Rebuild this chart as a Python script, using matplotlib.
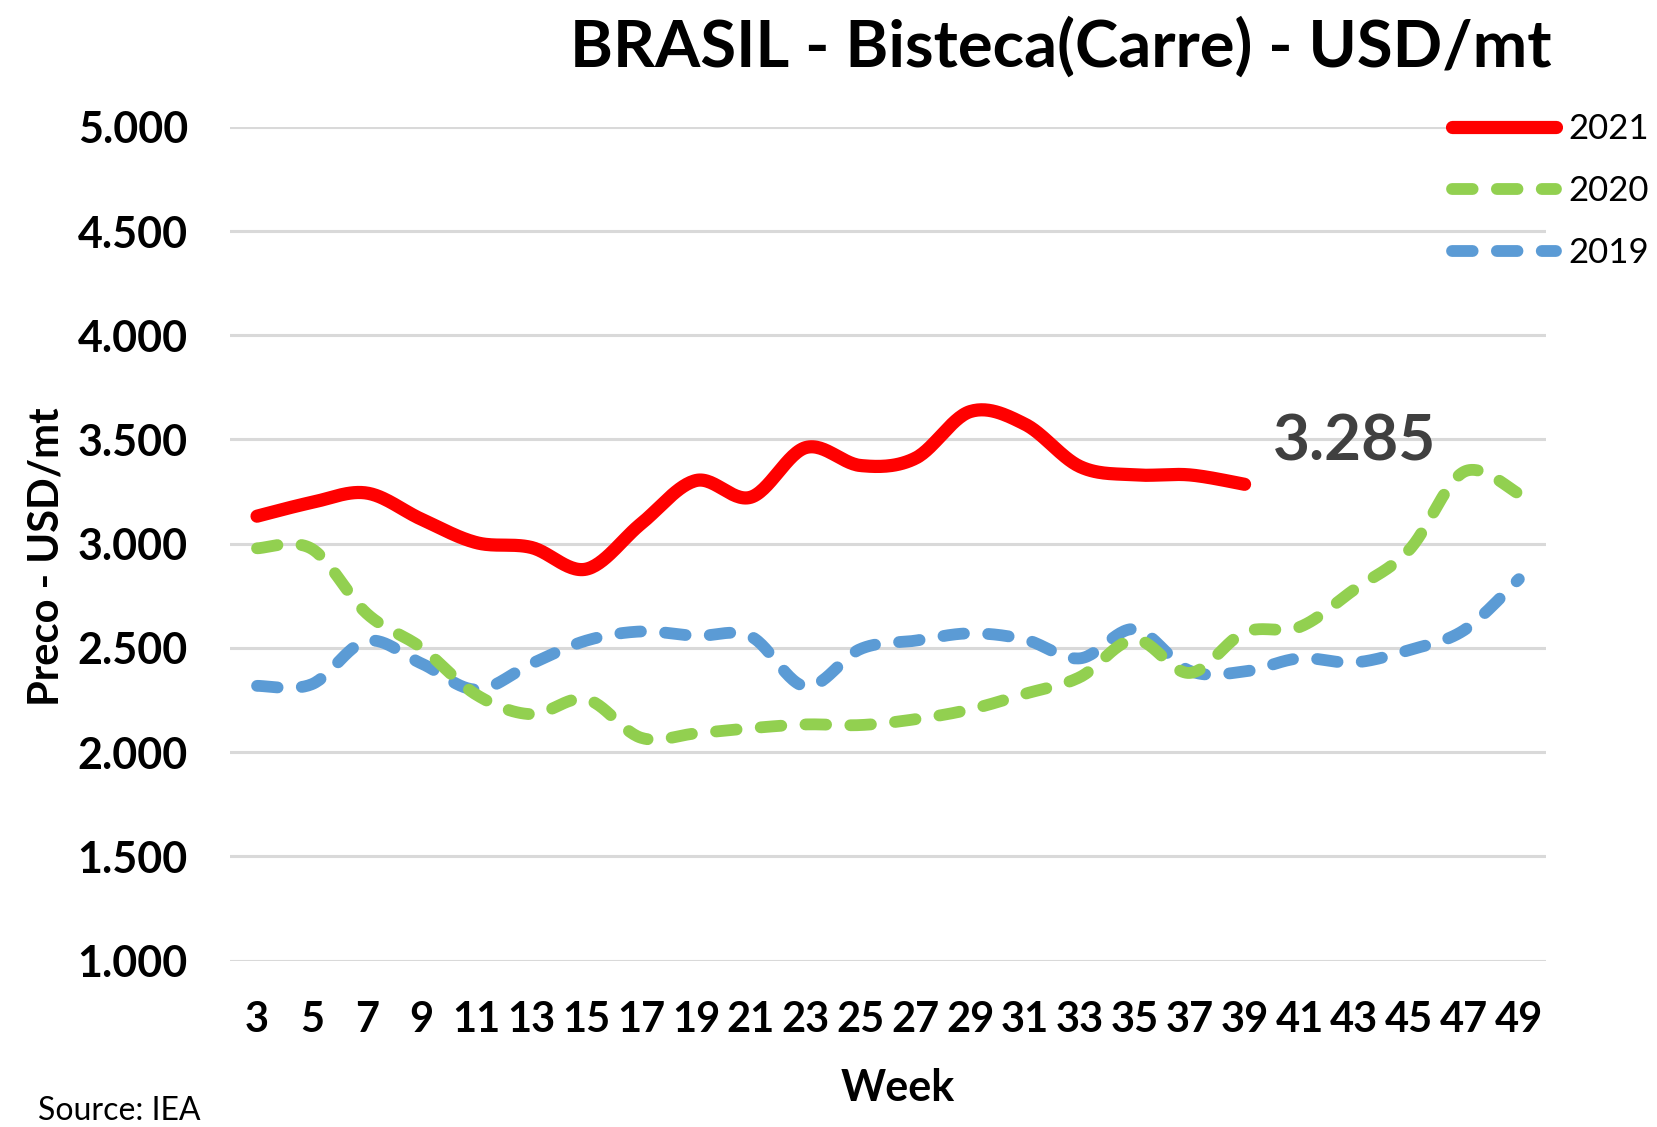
import numpy as np
import matplotlib
matplotlib.use("Agg")
import matplotlib.pyplot as plt
from matplotlib.lines import Line2D

plt.rcParams['font.family'] = ['Lato', 'DejaVu Sans']

# ---- data ----
weeks = list(range(3, 50, 2))
weeks_2021 = list(range(3, 40, 2))
y2021 = [3132, 3198, 3243, 3117, 3005, 2982, 2878, 3096, 3303, 3223,
         3461, 3375, 3410, 3634, 3573, 3370, 3330, 3330, 3285]
y2020 = [2978, 2975, 2665, 2500, 2275, 2182, 2254, 2069, 2090, 2115,
         2133, 2130, 2158, 2205, 2280, 2360, 2540, 2380, 2575, 2600,
         2780, 2970, 3345, 3240]
y2019 = [2318, 2326, 2534, 2425, 2300, 2424, 2535, 2579, 2558, 2555,
         2315, 2495, 2535, 2570, 2540, 2450, 2590, 2390, 2387, 2450,
         2430, 2490, 2585, 2830]
yticks = [1000, 1500, 2000, 2500, 3000, 3500, 4000, 4500, 5000]
ytick_labels = ["1.000", "1.500", "2.000", "2.500", "3.000", "3.500", "4.000", "4.500", "5.000"]

RED = "#FF0000"
GREEN = "#92D050"
BLUE = "#5B9BD5"


def smooth(x, y, n=30):
    """Catmull-Rom smoothing similar to Excel's smoothed line."""
    x = np.asarray(x, float)
    y = np.asarray(y, float)
    P = np.column_stack([x, y])
    P = np.vstack([P[0], P, P[-1]])
    out = []
    t = np.linspace(0, 1, n, endpoint=False)[:, None]
    for i in range(1, len(P) - 2):
        p0, p1, p2, p3 = P[i - 1], P[i], P[i + 1], P[i + 2]
        c1 = p1 + (p2 - p0) / 6.0
        c2 = p2 - (p3 - p1) / 6.0
        seg = ((1 - t) ** 3) * p1 + 3 * ((1 - t) ** 2) * t * c1 + 3 * (1 - t) * t ** 2 * c2 + t ** 3 * p2
        out.append(seg)
    out.append(P[-2][None, :])
    out = np.vstack(out)
    return out[:, 0], out[:, 1]


W, H = 1657, 1127
fig = plt.figure(figsize=(W / 100, H / 100), dpi=100)
ax = fig.add_axes([229.6 / W, 1 - 960.6 / H, (1546.3 - 229.6) / W, (960.6 - 126.8) / H])

ax.set_xlim(2, 50)
ax.set_ylim(1000, 5000)
ax.set_yticks(yticks)
ax.set_yticklabels(ytick_labels)
ax.set_xticks(weeks)
ax.set_xticklabels([str(w) for w in weeks])
ax.grid(axis='y', color='#D9D9D9', linewidth=2.2)
ax.set_axisbelow(True)
for s in ax.spines.values():
    s.set_visible(False)
ax.tick_params(axis='both', length=0)
ax.tick_params(axis='y', pad=30, labelsize=31)
ax.tick_params(axis='x', pad=29, labelsize=30)
for lab in ax.get_xticklabels() + ax.get_yticklabels():
    lab.set_fontweight('bold')

dash = (0, (1.75, 2.05))
xs, ys = smooth(weeks, y2019)
ax.plot(xs, ys, color=BLUE, lw=8.5, linestyle=dash, dash_capstyle='round', solid_capstyle='round')
xs, ys = smooth(weeks, y2020)
ax.plot(xs, ys, color=GREEN, lw=8.5, linestyle=dash, dash_capstyle='round', solid_capstyle='round')
xs, ys = smooth(weeks_2021, y2021)
ax.plot(xs, ys, color=RED, lw=9.5, solid_capstyle='round')

last_label = f"{y2021[-1]:,}".replace(",", ".")
ax.text(43.0, 3490, last_label, fontsize=46, fontweight='bold', color='#404040',
        ha='center', va='center')

ax.set_ylabel("Preco - USD/mt", fontsize=30, fontweight='bold')
ax.yaxis.set_label_coords(-0.1387, 0.484)
ax.yaxis.label.set_va('center')
ax.set_xlabel("Week", fontsize=31, fontweight='bold')
ax.xaxis.set_label_coords(0.5076, -0.1528)
ax.xaxis.label.set_va('center')

fig.text(1551 / W, 1 - 47 / H, "BRASIL - Bisteca(Carre) - USD/mt", fontsize=47,
         fontweight='bold', ha='right', va='center')
fig.text(38 / W, 1 - 1111 / H, "Source: IEA", fontsize=23, ha='left', va='center')

handles = [
    Line2D([], [], color=RED, lw=9.5, solid_capstyle='round'),
    Line2D([], [], color=GREEN, lw=8.5, linestyle=dash, dash_capstyle='round'),
    Line2D([], [], color=BLUE, lw=8.5, linestyle=dash, dash_capstyle='round'),
]
leg = fig.legend(handles, ["2021", "2020", "2019"], loc='upper left',
                 bbox_to_anchor=(1452 / W, 1 - 113 / H), frameon=False,
                 fontsize=25, handlelength=3.0, handletextpad=0.35,
                 labelspacing=0.86, borderpad=0, borderaxespad=0)

fig.savefig("out.png", dpi=100)
